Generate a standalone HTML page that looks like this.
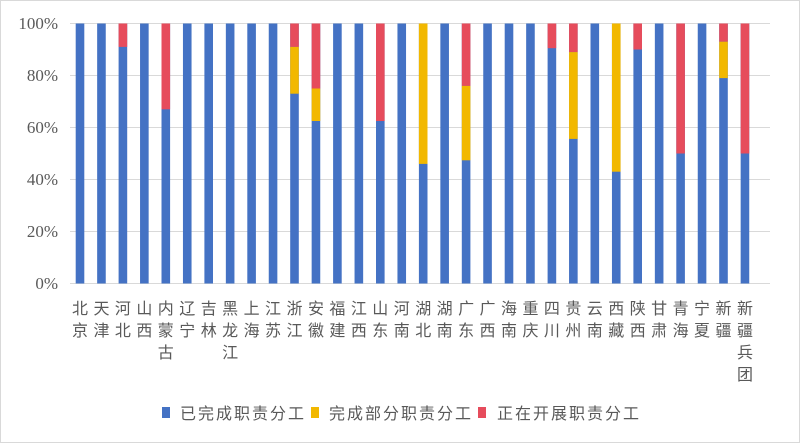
<!DOCTYPE html>
<html><head><meta charset="utf-8"><style>
html,body{margin:0;padding:0;background:#fff}
svg{display:block}
</style></head><body>
<svg width="800" height="443" xmlns="http://www.w3.org/2000/svg">
<rect x="0.5" y="0.5" width="799" height="442" fill="#fff" stroke="#d9d9d9"/>
<g stroke="#d9d9d9" stroke-width="1">
<line x1="70" x2="770" y1="23.5" y2="23.5"/>
<line x1="70" x2="770" y1="75.5" y2="75.5"/>
<line x1="70" x2="770" y1="127.5" y2="127.5"/>
<line x1="70" x2="770" y1="179.5" y2="179.5"/>
<line x1="70" x2="770" y1="231.5" y2="231.5"/>
<line x1="70" x2="770" y1="283.5" y2="283.5"/>
</g>
<g font-family="Liberation Serif, serif" font-size="17" fill="#595959" text-anchor="end">
<text x="58" y="29">100%</text>
<text x="58" y="81">80%</text>
<text x="58" y="133">60%</text>
<text x="58" y="185">40%</text>
<text x="58" y="237">20%</text>
<text x="58" y="289">0%</text>
</g>
<g fill="#4472c4">
<rect x="75.7" y="23.5" width="8.6" height="260"/>
<rect x="97.15" y="23.5" width="8.6" height="260"/>
<rect x="118.6" y="23.5" width="8.6" height="260"/>
<rect x="140.05" y="23.5" width="8.6" height="260"/>
<rect x="161.5" y="23.5" width="8.6" height="260"/>
<rect x="182.95" y="23.5" width="8.6" height="260"/>
<rect x="204.4" y="23.5" width="8.6" height="260"/>
<rect x="225.85" y="23.5" width="8.6" height="260"/>
<rect x="247.3" y="23.5" width="8.6" height="260"/>
<rect x="268.75" y="23.5" width="8.6" height="260"/>
<rect x="290.2" y="23.5" width="8.6" height="260"/>
<rect x="311.65" y="23.5" width="8.6" height="260"/>
<rect x="333.1" y="23.5" width="8.6" height="260"/>
<rect x="354.55" y="23.5" width="8.6" height="260"/>
<rect x="376" y="23.5" width="8.6" height="260"/>
<rect x="397.45" y="23.5" width="8.6" height="260"/>
<rect x="418.9" y="23.5" width="8.6" height="260"/>
<rect x="440.35" y="23.5" width="8.6" height="260"/>
<rect x="461.8" y="23.5" width="8.6" height="260"/>
<rect x="483.25" y="23.5" width="8.6" height="260"/>
<rect x="504.7" y="23.5" width="8.6" height="260"/>
<rect x="526.15" y="23.5" width="8.6" height="260"/>
<rect x="547.6" y="23.5" width="8.6" height="260"/>
<rect x="569.05" y="23.5" width="8.6" height="260"/>
<rect x="590.5" y="23.5" width="8.6" height="260"/>
<rect x="611.95" y="23.5" width="8.6" height="260"/>
<rect x="633.4" y="23.5" width="8.6" height="260"/>
<rect x="654.85" y="23.5" width="8.6" height="260"/>
<rect x="676.3" y="23.5" width="8.6" height="260"/>
<rect x="697.75" y="23.5" width="8.6" height="260"/>
<rect x="719.2" y="23.5" width="8.6" height="260"/>
<rect x="740.65" y="23.5" width="8.6" height="260"/>
</g>
<g fill="#e64c5c">
<rect x="118.6" y="23.5" width="8.6" height="23.4"/>
<rect x="161.5" y="23.5" width="8.6" height="85.8"/>
<rect x="290.2" y="23.5" width="8.6" height="23.4"/>
<rect x="311.65" y="23.5" width="8.6" height="65"/>
<rect x="376" y="23.5" width="8.6" height="97.5"/>
<rect x="461.8" y="23.5" width="8.6" height="62.4"/>
<rect x="547.6" y="23.5" width="8.6" height="24.7"/>
<rect x="569.05" y="23.5" width="8.6" height="28.6"/>
<rect x="633.4" y="23.5" width="8.6" height="26"/>
<rect x="676.3" y="23.5" width="8.6" height="130"/>
<rect x="719.2" y="23.5" width="8.6" height="18.2"/>
<rect x="740.65" y="23.5" width="8.6" height="130"/>
</g>
<g fill="#f2b800">
<rect x="290.2" y="46.9" width="8.6" height="46.8"/>
<rect x="311.65" y="88.5" width="8.6" height="32.5"/>
<rect x="418.9" y="23.5" width="8.6" height="140.4"/>
<rect x="461.8" y="85.9" width="8.6" height="74.4"/>
<rect x="569.05" y="52.1" width="8.6" height="86.8"/>
<rect x="611.95" y="23.5" width="8.6" height="148.2"/>
<rect x="719.2" y="41.7" width="8.6" height="36.4"/>
</g>
<g font-family="Liberation Sans, Noto Sans CJK SC, sans-serif" font-size="16" fill="#595959" text-anchor="middle">
<text y="314"><tspan x="80">北</tspan><tspan x="80" dy="22">京</tspan></text>
<text y="314"><tspan x="101.45">天</tspan><tspan x="101.45" dy="22">津</tspan></text>
<text y="314"><tspan x="122.9">河</tspan><tspan x="122.9" dy="22">北</tspan></text>
<text y="314"><tspan x="144.35">山</tspan><tspan x="144.35" dy="22">西</tspan></text>
<text y="314"><tspan x="165.8">内</tspan><tspan x="165.8" dy="22">蒙</tspan><tspan x="165.8" dy="22">古</tspan></text>
<text y="314"><tspan x="187.25">辽</tspan><tspan x="187.25" dy="22">宁</tspan></text>
<text y="314"><tspan x="208.7">吉</tspan><tspan x="208.7" dy="22">林</tspan></text>
<text y="314"><tspan x="230.15">黑</tspan><tspan x="230.15" dy="22">龙</tspan><tspan x="230.15" dy="22">江</tspan></text>
<text y="314"><tspan x="251.6">上</tspan><tspan x="251.6" dy="22">海</tspan></text>
<text y="314"><tspan x="273.05">江</tspan><tspan x="273.05" dy="22">苏</tspan></text>
<text y="314"><tspan x="294.5">浙</tspan><tspan x="294.5" dy="22">江</tspan></text>
<text y="314"><tspan x="315.95">安</tspan><tspan x="315.95" dy="22">徽</tspan></text>
<text y="314"><tspan x="337.4">福</tspan><tspan x="337.4" dy="22">建</tspan></text>
<text y="314"><tspan x="358.85">江</tspan><tspan x="358.85" dy="22">西</tspan></text>
<text y="314"><tspan x="380.3">山</tspan><tspan x="380.3" dy="22">东</tspan></text>
<text y="314"><tspan x="401.75">河</tspan><tspan x="401.75" dy="22">南</tspan></text>
<text y="314"><tspan x="423.2">湖</tspan><tspan x="423.2" dy="22">北</tspan></text>
<text y="314"><tspan x="444.65">湖</tspan><tspan x="444.65" dy="22">南</tspan></text>
<text y="314"><tspan x="466.1">广</tspan><tspan x="466.1" dy="22">东</tspan></text>
<text y="314"><tspan x="487.55">广</tspan><tspan x="487.55" dy="22">西</tspan></text>
<text y="314"><tspan x="509">海</tspan><tspan x="509" dy="22">南</tspan></text>
<text y="314"><tspan x="530.45">重</tspan><tspan x="530.45" dy="22">庆</tspan></text>
<text y="314"><tspan x="551.9">四</tspan><tspan x="551.9" dy="22">川</tspan></text>
<text y="314"><tspan x="573.35">贵</tspan><tspan x="573.35" dy="22">州</tspan></text>
<text y="314"><tspan x="594.8">云</tspan><tspan x="594.8" dy="22">南</tspan></text>
<text y="314"><tspan x="616.25">西</tspan><tspan x="616.25" dy="22">藏</tspan></text>
<text y="314"><tspan x="637.7">陕</tspan><tspan x="637.7" dy="22">西</tspan></text>
<text y="314"><tspan x="659.15">甘</tspan><tspan x="659.15" dy="22">肃</tspan></text>
<text y="314"><tspan x="680.6">青</tspan><tspan x="680.6" dy="22">海</tspan></text>
<text y="314"><tspan x="702.05">宁</tspan><tspan x="702.05" dy="22">夏</tspan></text>
<text y="314"><tspan x="723.5">新</tspan><tspan x="723.5" dy="22">疆</tspan></text>
<text y="314"><tspan x="744.95">新</tspan><tspan x="744.95" dy="22">疆</tspan><tspan x="744.95" dy="22">兵</tspan><tspan x="744.95" dy="22">团</tspan></text>
</g>
<g font-family="Liberation Sans, Noto Sans CJK SC, sans-serif" font-size="16" fill="#595959" letter-spacing="2">
<rect x="162" y="407" width="8" height="11" fill="#4472c4"/>
<text x="180" y="419">已完成职责分工</text>
<rect x="311" y="407" width="8" height="11" fill="#f2b800"/>
<text x="329" y="419">完成部分职责分工</text>
<rect x="478" y="407" width="8" height="11" fill="#e64c5c"/>
<text x="497" y="419">正在开展职责分工</text>
</g>
</svg>
</body></html>
